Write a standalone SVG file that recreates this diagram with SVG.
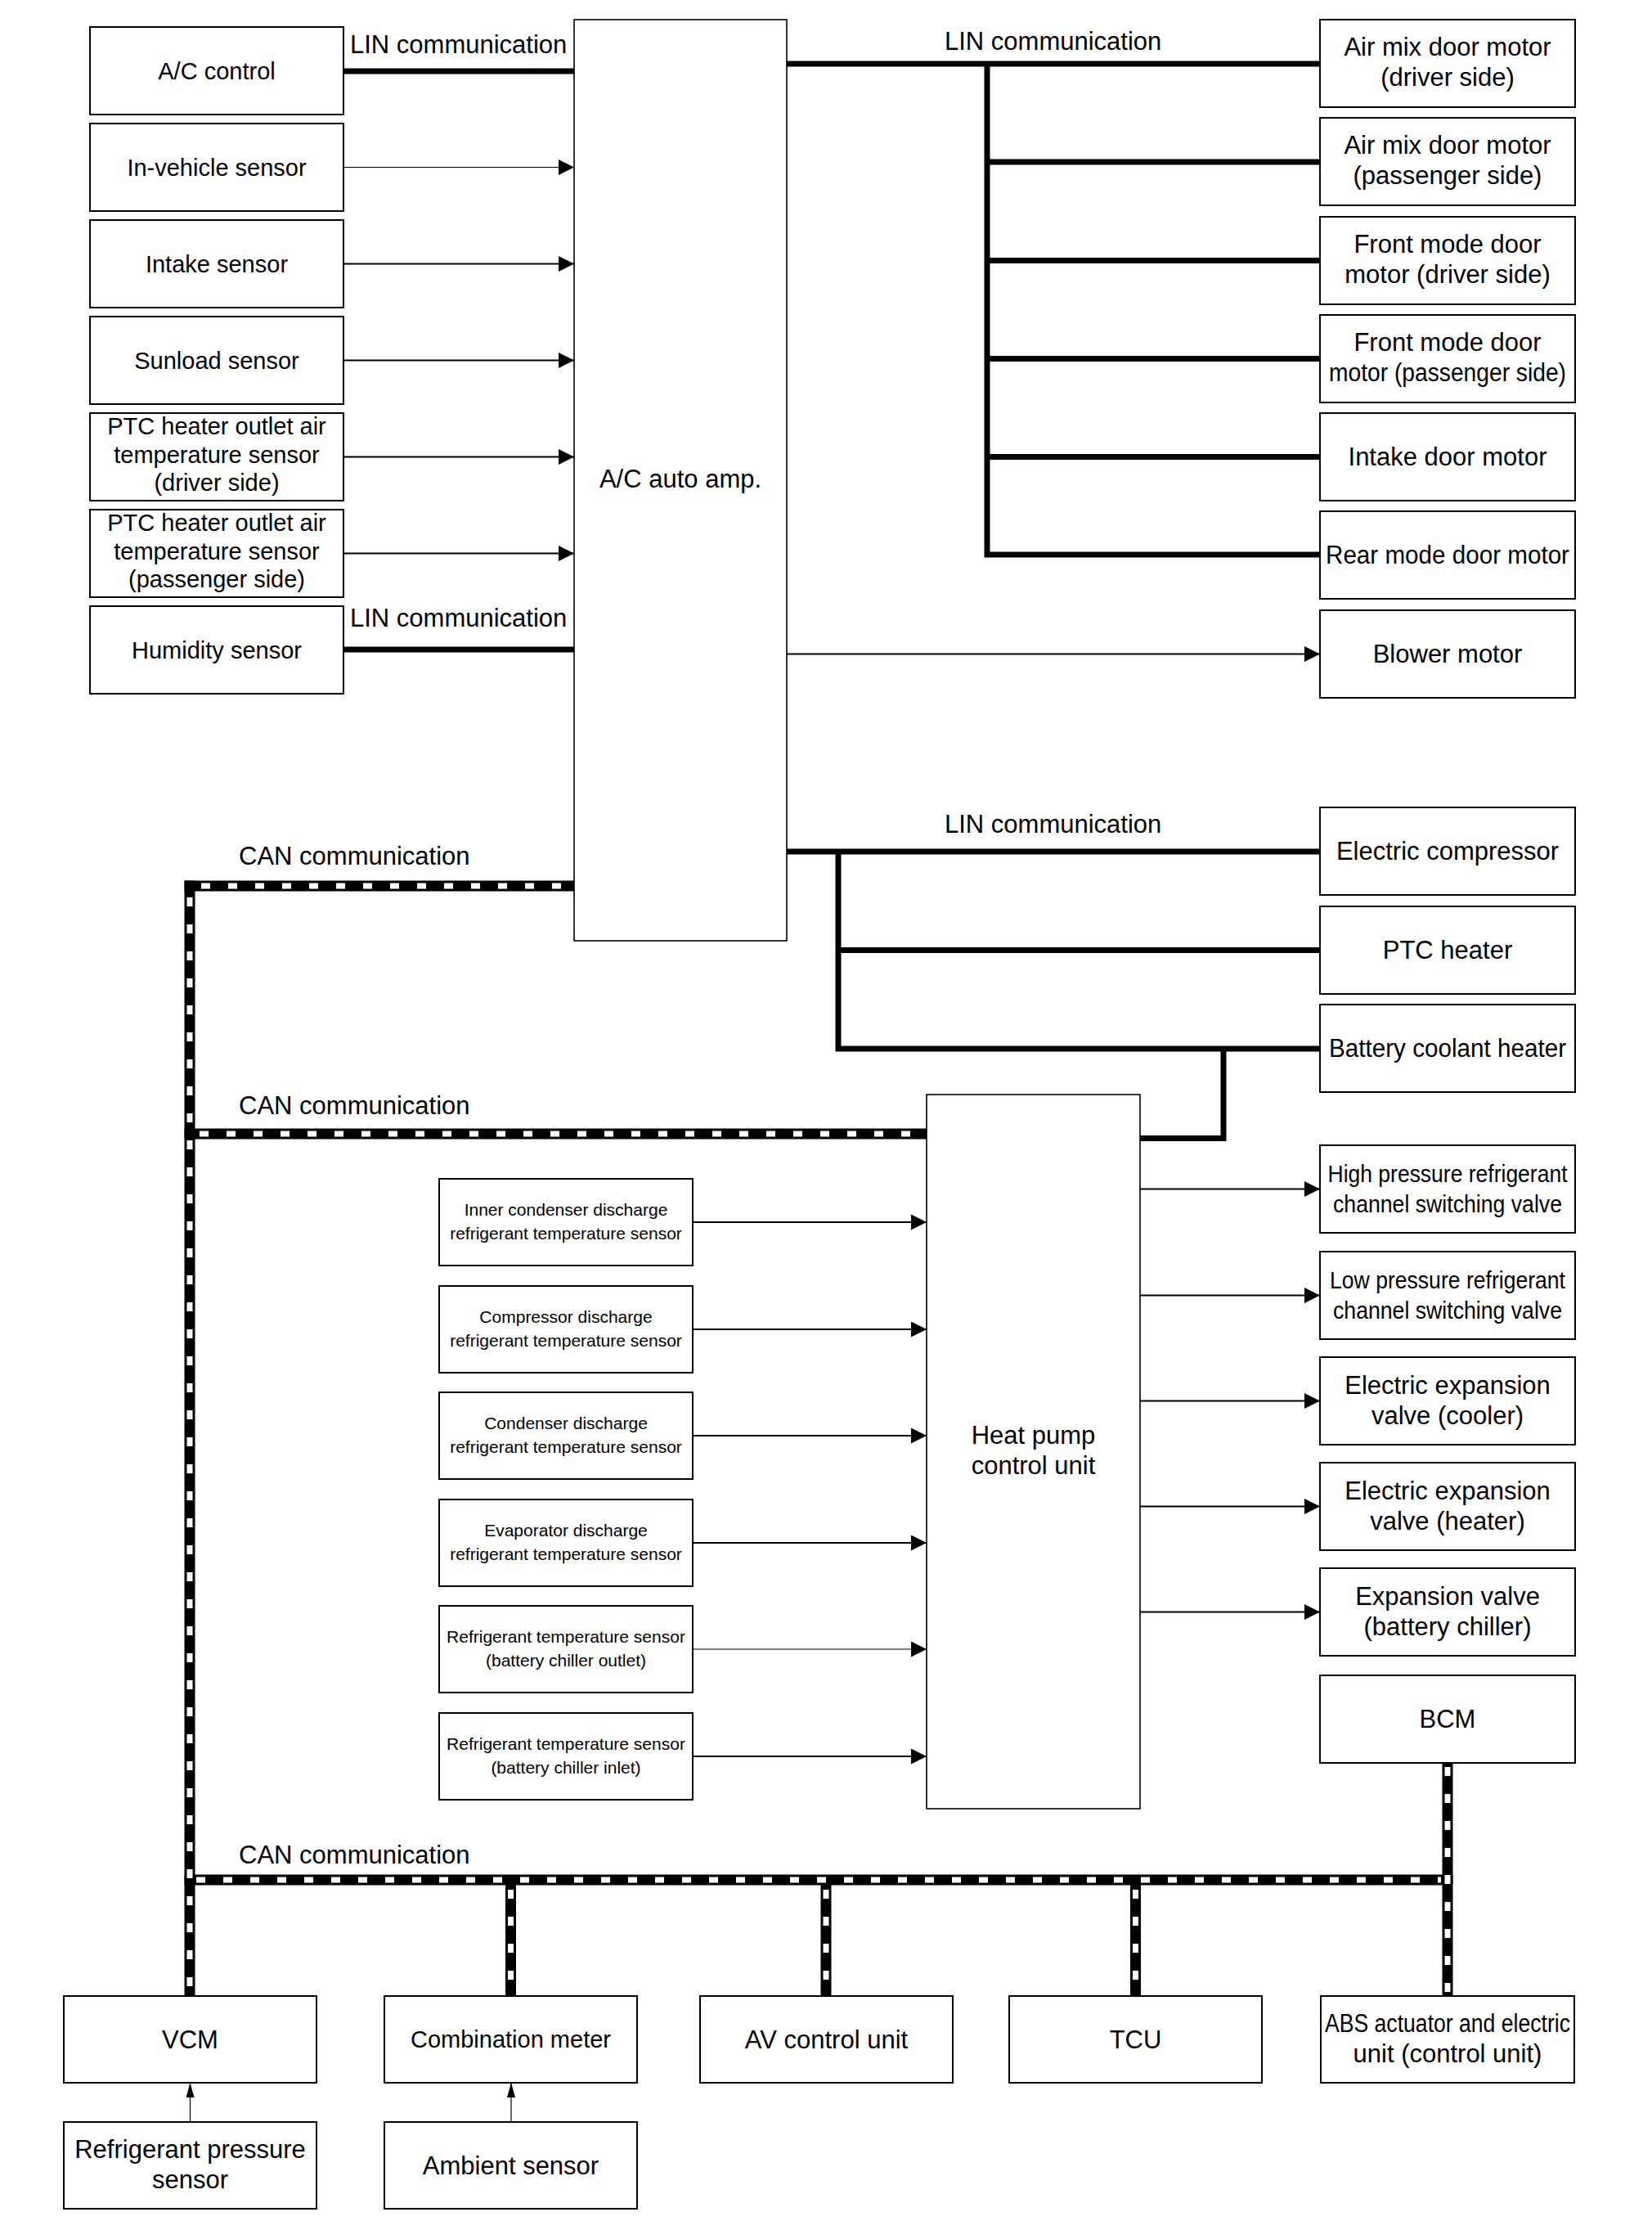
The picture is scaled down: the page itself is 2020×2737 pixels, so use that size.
<svg xmlns="http://www.w3.org/2000/svg" width="2020" height="2737" viewBox="0 0 2020 2737">
<style>
.box{fill:#fff;stroke:#000;stroke-width:2}
.big{fill:#fff;stroke:#000;stroke-width:1.6}
text{font-family:"Liberation Sans",Arial,sans-serif;font-size:29px;fill:#000;text-anchor:middle}
.r{font-size:31px}
.s{font-size:21px}
.lbl{font-size:31px;text-anchor:start}
.lin{stroke:#000;stroke-width:7;fill:none}
.arr{stroke:#000;stroke-width:2;fill:none;marker-end:url(#ah)}
.arr1{stroke:#000;stroke-width:1.2;fill:none;marker-end:url(#ah)}
.arrv{stroke:#000;stroke-width:1.2;fill:none;marker-end:url(#av)}
.canb{stroke:#000;stroke-width:13;fill:none}
.canw{stroke:#fff;stroke-width:7;stroke-dasharray:11 22;fill:none}
</style>
<defs>
<marker id="ah" markerUnits="userSpaceOnUse" markerWidth="19" markerHeight="19" refX="19" refY="9.5" orient="auto"><path d="M0,0 L19,9.5 L0,19 Z" fill="#000"/></marker>
<marker id="av" markerUnits="userSpaceOnUse" markerWidth="18" markerHeight="10" refX="18" refY="5" orient="auto"><path d="M0,0 L18,5 L0,10 Z" fill="#000"/></marker>
</defs>
<rect width="2020" height="2737" fill="#fff"/>

<g id="connectors">
<!-- LIN left -->
<line class="lin" x1="420" y1="87" x2="702" y2="87"/>
<line class="lin" x1="420" y1="794" x2="702" y2="794"/>
<!-- left sensor arrows -->
<line class="arr1" x1="420" y1="204.5" x2="702" y2="204.5"/>
<line class="arr" x1="420" y1="322.5" x2="702" y2="322.5"/>
<line class="arr" x1="420" y1="440.5" x2="702" y2="440.5"/>
<line class="arr" x1="420" y1="558.5" x2="702" y2="558.5"/>
<line class="arr" x1="420" y1="676.5" x2="702" y2="676.5"/>
<!-- LIN right top -->
<path class="lin" d="M962,78 H1614 M1207,78 V681.5 M1207,198 H1614 M1207,318.5 H1614 M1207,438.5 H1614 M1207,558.5 H1614 M1203.5,678 H1614"/>
<line class="arr" x1="962" y1="799.5" x2="1614" y2="799.5"/>
<!-- LIN lower -->
<path class="lin" d="M962,1041 H1614 M1025,1041 V1285.5 M1025,1161.5 H1614 M1021.5,1282 H1614 M1496,1282 V1391.5 H1394"/>
<!-- HP sensor arrows -->
<line class="arr" x1="847" y1="1494" x2="1133" y2="1494"/>
<line class="arr" x1="847" y1="1625" x2="1133" y2="1625"/>
<line class="arr" x1="847" y1="1755" x2="1133" y2="1755"/>
<line class="arr" x1="847" y1="1886" x2="1133" y2="1886"/>
<line class="arr1" x1="847" y1="2016" x2="1133" y2="2016"/>
<line class="arr" x1="847" y1="2147" x2="1133" y2="2147"/>
<!-- HP valve arrows -->
<line class="arr" x1="1394" y1="1453.5" x2="1614" y2="1453.5"/>
<line class="arr" x1="1394" y1="1583.5" x2="1614" y2="1583.5"/>
<line class="arr" x1="1394" y1="1712.5" x2="1614" y2="1712.5"/>
<line class="arr" x1="1394" y1="1841.5" x2="1614" y2="1841.5"/>
<line class="arr" x1="1394" y1="1970.5" x2="1614" y2="1970.5"/>
<!-- small vertical arrows -->
<line class="arrv" x1="232.5" y1="2594" x2="232.5" y2="2546"/>
<line class="arrv" x1="625" y1="2594" x2="625" y2="2546"/>
<!-- CAN bus -->
<g id="can">
<line class="canb" x1="225.5" y1="1083" x2="702" y2="1083"/>
<line class="canb" x1="232" y1="1076.5" x2="232" y2="2440"/>
<line class="canb" x1="225.5" y1="1386" x2="1133" y2="1386"/>
<line class="canb" x1="225.5" y1="2298" x2="1776.5" y2="2298"/>
<line class="canb" x1="624.5" y1="2298" x2="624.5" y2="2440"/>
<line class="canb" x1="1010" y1="2298" x2="1010" y2="2440"/>
<line class="canb" x1="1388.5" y1="2298" x2="1388.5" y2="2440"/>
<line class="canb" x1="1770" y1="2155" x2="1770" y2="2440"/>
<line class="canw" x1="246" y1="1083" x2="702" y2="1083"/>
<line class="canw" x1="232" y1="1097" x2="232" y2="2440"/>
<line class="canw" x1="244" y1="1386" x2="1133" y2="1386"/>
<line class="canw" x1="240" y1="2298" x2="1762" y2="2298"/>
<line class="canw" x1="624.5" y1="2310" x2="624.5" y2="2440"/>
<line class="canw" x1="1010" y1="2310" x2="1010" y2="2440"/>
<line class="canw" x1="1388.5" y1="2310" x2="1388.5" y2="2440"/>
<line class="canw" x1="1770" y1="2160" x2="1770" y2="2440"/>
</g>
<!-- bus labels -->
<text class="lbl" x="428" y="65">LIN communication</text>
<text class="lbl" x="428" y="766">LIN communication</text>
<text class="lbl" x="1155" y="61">LIN communication</text>
<text class="lbl" x="1155" y="1018">LIN communication</text>
<text class="lbl" x="292" y="1057">CAN communication</text>
<text class="lbl" x="292" y="1362">CAN communication</text>
<text class="lbl" x="292" y="2278">CAN communication</text>
</g>

<!-- Left column -->
<g id="ac-control"><rect class="box" x="110" y="33" width="310" height="107"/><text x="265" y="96.5">A/C control</text></g>
<g id="in-vehicle-sensor"><rect class="box" x="110" y="151" width="310" height="107"/><text x="265" y="214.5">In-vehicle sensor</text></g>
<g id="intake-sensor"><rect class="box" x="110" y="269" width="310" height="107"/><text x="265" y="332.5">Intake sensor</text></g>
<g id="sunload-sensor"><rect class="box" x="110" y="387" width="310" height="107"/><text x="265" y="450.5">Sunload sensor</text></g>
<g id="ptc-outlet-driver"><rect class="box" x="110" y="505" width="310" height="107"/><text x="265" y="531">PTC heater outlet air</text><text x="265" y="565.5">temperature sensor</text><text x="265" y="600">(driver side)</text></g>
<g id="ptc-outlet-passenger"><rect class="box" x="110" y="623" width="310" height="107"/><text x="265" y="649">PTC heater outlet air</text><text x="265" y="683.5">temperature sensor</text><text x="265" y="718">(passenger side)</text></g>
<g id="humidity-sensor"><rect class="box" x="110" y="741" width="310" height="107"/><text x="265" y="804.5">Humidity sensor</text></g>

<!-- A/C auto amp -->
<g id="ac-auto-amp"><rect class="big" x="702" y="24" width="260" height="1126"/><text class="r" x="832" y="596">A/C auto amp.</text></g>

<!-- Right column -->
<g id="air-mix-driver"><rect class="box" x="1614" y="24" width="312" height="107"/><text class="r" x="1770" y="68">Air mix door motor</text><text class="r" x="1770" y="105">(driver side)</text></g>
<g id="air-mix-passenger"><rect class="box" x="1614" y="144" width="312" height="107"/><text class="r" x="1770" y="188">Air mix door motor</text><text class="r" x="1770" y="225">(passenger side)</text></g>
<g id="front-mode-driver"><rect class="box" x="1614" y="265" width="312" height="107"/><text class="r" x="1770" y="309">Front mode door</text><text class="r" x="1770" y="346">motor (driver side)</text></g>
<g id="front-mode-passenger"><rect class="box" x="1614" y="385" width="312" height="107"/><text class="r" x="1770" y="429">Front mode door</text><text class="r" x="1770" y="466" textLength="290" lengthAdjust="spacingAndGlyphs">motor (passenger side)</text></g>
<g id="intake-door-motor"><rect class="box" x="1614" y="505" width="312" height="107"/><text class="r" x="1770" y="569">Intake door motor</text></g>
<g id="rear-mode-door-motor"><rect class="box" x="1614" y="625" width="312" height="107"/><text class="r" x="1770" y="689" textLength="298" lengthAdjust="spacingAndGlyphs">Rear mode door motor</text></g>
<g id="blower-motor"><rect class="box" x="1614" y="746" width="312" height="107"/><text class="r" x="1770" y="810">Blower motor</text></g>
<g id="electric-compressor"><rect class="box" x="1614" y="987" width="312" height="107"/><text class="r" x="1770" y="1051">Electric compressor</text></g>
<g id="ptc-heater"><rect class="box" x="1614" y="1108" width="312" height="107"/><text class="r" x="1770" y="1172">PTC heater</text></g>
<g id="battery-coolant-heater"><rect class="box" x="1614" y="1228" width="312" height="107"/><text class="r" x="1770" y="1292" textLength="290" lengthAdjust="spacingAndGlyphs">Battery coolant heater</text></g>

<!-- Heat pump -->
<g id="heat-pump-control-unit"><rect class="big" x="1133" y="1338" width="261" height="873"/><text class="r" x="1263.5" y="1765">Heat pump</text><text class="r" x="1263.5" y="1802">control unit</text></g>

<!-- HP sensors -->
<g id="inner-condenser-sensor"><rect class="box" x="537" y="1441" width="310" height="106"/><text class="s" x="692" y="1486">Inner condenser discharge</text><text class="s" x="692" y="1515">refrigerant temperature sensor</text></g>
<g id="compressor-discharge-sensor"><rect class="box" x="537" y="1572" width="310" height="106"/><text class="s" x="692" y="1617">Compressor discharge</text><text class="s" x="692" y="1646">refrigerant temperature sensor</text></g>
<g id="condenser-discharge-sensor"><rect class="box" x="537" y="1702" width="310" height="106"/><text class="s" x="692" y="1747">Condenser discharge</text><text class="s" x="692" y="1776">refrigerant temperature sensor</text></g>
<g id="evaporator-discharge-sensor"><rect class="box" x="537" y="1833" width="310" height="106"/><text class="s" x="692" y="1878">Evaporator discharge</text><text class="s" x="692" y="1907">refrigerant temperature sensor</text></g>
<g id="chiller-outlet-sensor"><rect class="box" x="537" y="1963" width="310" height="106"/><text class="s" x="692" y="2008">Refrigerant temperature sensor</text><text class="s" x="692" y="2037">(battery chiller outlet)</text></g>
<g id="chiller-inlet-sensor"><rect class="box" x="537" y="2094" width="310" height="106"/><text class="s" x="692" y="2139">Refrigerant temperature sensor</text><text class="s" x="692" y="2168">(battery chiller inlet)</text></g>

<!-- HP valves -->
<g id="high-pressure-valve"><rect class="box" x="1614" y="1400" width="312" height="107"/><text x="1770" y="1445" textLength="293" lengthAdjust="spacingAndGlyphs">High pressure refrigerant</text><text x="1770" y="1482" textLength="280" lengthAdjust="spacingAndGlyphs">channel switching valve</text></g>
<g id="low-pressure-valve"><rect class="box" x="1614" y="1530" width="312" height="107"/><text x="1770" y="1575" textLength="288" lengthAdjust="spacingAndGlyphs">Low pressure refrigerant</text><text x="1770" y="1612" textLength="280" lengthAdjust="spacingAndGlyphs">channel switching valve</text></g>
<g id="eev-cooler"><rect class="box" x="1614" y="1659" width="312" height="107"/><text class="r" x="1770" y="1704">Electric expansion</text><text class="r" x="1770" y="1741">valve (cooler)</text></g>
<g id="eev-heater"><rect class="box" x="1614" y="1788" width="312" height="107"/><text class="r" x="1770" y="1833">Electric expansion</text><text class="r" x="1770" y="1870">valve (heater)</text></g>
<g id="expansion-valve-chiller"><rect class="box" x="1614" y="1917" width="312" height="107"/><text class="r" x="1770" y="1962">Expansion valve</text><text class="r" x="1770" y="1999">(battery chiller)</text></g>
<g id="bcm"><rect class="box" x="1614" y="2048" width="312" height="107"/><text class="r" x="1770" y="2112">BCM</text></g>

<!-- Bottom row -->
<g id="vcm"><rect class="box" x="78" y="2440" width="309" height="106"/><text class="r" x="232.5" y="2504">VCM</text></g>
<g id="combination-meter"><rect class="box" x="470" y="2440" width="309" height="106"/><text x="624.5" y="2503">Combination meter</text></g>
<g id="av-control-unit"><rect class="box" x="856" y="2440" width="309" height="106"/><text class="r" x="1010.5" y="2504">AV control unit</text></g>
<g id="tcu"><rect class="box" x="1234" y="2440" width="309" height="106"/><text class="r" x="1388.5" y="2504">TCU</text></g>
<g id="abs-actuator"><rect class="box" x="1615" y="2440" width="310" height="106"/><text class="r" x="1770" y="2484" textLength="300" lengthAdjust="spacingAndGlyphs">ABS actuator and electric</text><text class="r" x="1770" y="2521">unit (control unit)</text></g>
<g id="refrigerant-pressure-sensor"><rect class="box" x="78" y="2594" width="309" height="106"/><text class="r" x="232.5" y="2638">Refrigerant pressure</text><text class="r" x="232.5" y="2675">sensor</text></g>
<g id="ambient-sensor"><rect class="box" x="470" y="2594" width="309" height="106"/><text class="r" x="624.5" y="2658">Ambient sensor</text></g>
</svg>
